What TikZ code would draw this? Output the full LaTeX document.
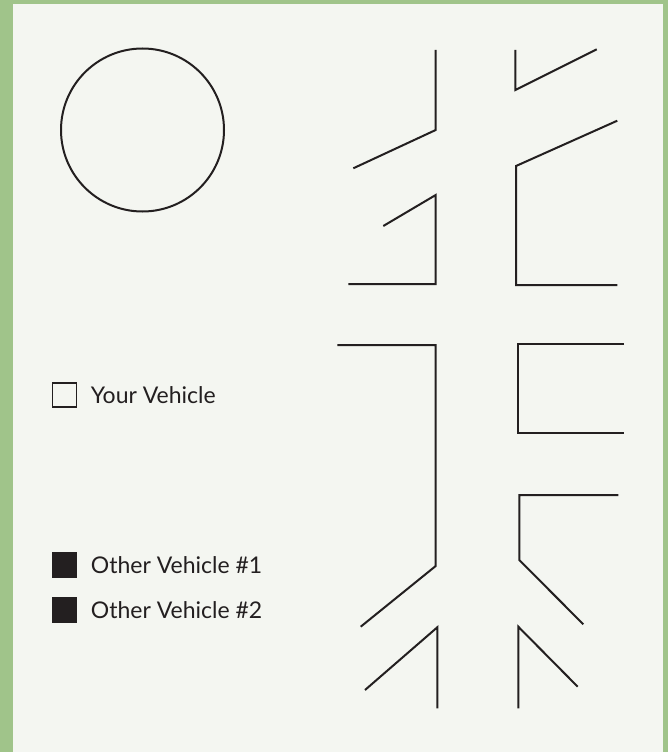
\documentclass[tikz,border=0pt]{standalone}
\usepackage{fontspec}
\setmainfont{Lato}
\definecolor{frame}{HTML}{A0C48A}
\definecolor{paper}{HTML}{F4F6F1}
\definecolor{ink}{HTML}{231F20}
\begin{document}
\begin{tikzpicture}[x=1pt,y=-1pt,
  road/.style={draw=ink,line width=2pt,line join=miter},
  swatch/.style={draw=ink,line width=1.2pt,minimum size=24pt,inner sep=0pt},
  legendtext/.style={anchor=base west,inner sep=0pt,text=ink,font=\fontsize{23}{27}\selectfont}]
\fill[frame] (0,0) rectangle (668,752);
\fill[paper] (13,4) rectangle (663,752);
\useasboundingbox (0,0) rectangle (668,752);
% circle
\node[draw=ink,line width=2pt,circle,minimum size=163pt,inner sep=0pt] (c) at (142.5,130) {};
% legend
\node[swatch,fill=paper] (s1) at (64.7,395) {};
\node[legendtext] (t1) at (90.7,403.3) {Your Vehicle};
\node[swatch,fill=ink] (s2) at (64.7,565) {};
\node[legendtext] (t2) at (90.7,573) {Other Vehicle \#1};
\node[swatch,fill=ink] (s3) at (64.7,610) {};
\node[legendtext] (t3) at (90.7,618) {Other Vehicle \#2};
% roads top
\draw[road] (435.7,50) -- (435.7,130) -- (353.3,168.3);
\draw[road] (383.3,226) -- (435.7,195) -- (435.7,284) -- (348.3,284);
\draw[road] (515.3,50) -- (515.3,90) -- (596.7,49.3);
\draw[road] (617.3,120.7) -- (516,166) -- (516,285) -- (617.3,285);
% roads bottom
\draw[road] (337.3,345) -- (435.7,345) -- (435.7,566) -- (360.7,626.7);
\draw[road] (365,690) -- (437.3,627.3) -- (437.3,708.3);
\draw[road] (624,344) -- (517.7,344) -- (517.7,433.3) -- (624,433.3);
\draw[road] (618.3,495) -- (519.3,495) -- (519.3,560) -- (583.3,624.3);
\draw[road] (518.3,708.3) -- (518.3,626.7) -- (577.7,686.7);
\end{tikzpicture}
\end{document}
